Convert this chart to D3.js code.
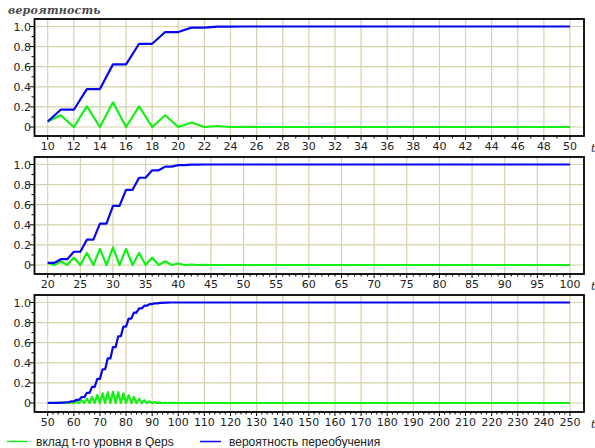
<!DOCTYPE html>
<html>
<head>
<meta charset="utf-8">
<script src="https://cdn.jsdelivr.net/npm/d3@7"></script>
<style>
  body { margin: 0; background: #fff; }
  svg { display: block; }
  text { font-family: "DejaVu Sans", sans-serif; fill: #222; }
</style>
</head>
<body>
<div id="chart"></div>
<script>
// panel 1: t = 10..50
const green1 = [
  0.055, 0.117, 0, 0.205, 0, 0.246, 0, 0.205, 0, 0.117, 0, 0.044, 0, 0.010, 0, 0.001,
  0, 0, 0, 0, 0, 0, 0, 0, 0, 0, 0, 0, 0, 0, 0, 0, 0, 0, 0, 0, 0, 0, 0, 0, 0
];
const blue1 = [
  0.055, 0.172, 0.172, 0.377, 0.377, 0.623, 0.623, 0.828, 0.828, 0.945, 0.945, 0.989, 0.989, 0.999, 0.999, 1,
  1, 1, 1, 1, 1, 1, 1, 1, 1, 1, 1, 1, 1, 1, 1, 1, 1, 1, 1, 1, 1, 1, 1, 1, 1
];

// panel 2: t = 20..100
const green2 = [
  0.021, 0, 0.037, 0, 0.074, 0, 0.120, 0, 0.160, 0, 0.176, 0, 0.160, 0, 0.120, 0, 0.074, 0, 0.037, 0,
  0.015, 0, 0.005, 0, 0.001,
  0, 0, 0, 0, 0, 0, 0, 0, 0, 0, 0, 0, 0, 0, 0, 0, 0, 0, 0, 0, 0, 0, 0, 0, 0, 0, 0, 0,
  0, 0, 0, 0, 0, 0, 0, 0, 0, 0, 0, 0, 0, 0, 0, 0, 0, 0, 0, 0, 0, 0, 0, 0, 0, 0, 0, 0
];
const blue2 = [
  0.021, 0.021, 0.058, 0.058, 0.132, 0.132, 0.252, 0.252, 0.412, 0.412, 0.588, 0.588, 0.748, 0.748,
  0.868, 0.868, 0.942, 0.942, 0.979, 0.979, 0.994, 0.994, 0.999, 0.999, 1,
  1, 1, 1, 1, 1, 1, 1, 1, 1, 1, 1, 1, 1, 1, 1, 1, 1, 1, 1, 1, 1, 1, 1, 1, 1, 1, 1, 1,
  1, 1, 1, 1, 1, 1, 1, 1, 1, 1, 1, 1, 1, 1, 1, 1, 1, 1, 1, 1, 1, 1, 1, 1, 1, 1, 1, 1
];

// panel 3: t = 50..250
const green3 = [
  0, 0.0003, 0, 0.0008, 0, 0.002, 0, 0.0044, 0, 0.0088, 0, 0.016, 0, 0.027, 0, 0.042, 0, 0.060, 0, 0.079,
  0, 0.096, 0, 0.108, 0, 0.112, 0, 0.108, 0, 0.096, 0, 0.079, 0, 0.060, 0, 0.042, 0, 0.027, 0, 0.016,
  0, 0.0088, 0, 0.0044, 0, 0.002, 0, 0.0008, 0, 0.0003, 0,
  0, 0, 0, 0, 0, 0, 0, 0, 0, 0, 0, 0, 0, 0, 0, 0, 0, 0, 0, 0, 0, 0, 0, 0, 0,
  0, 0, 0, 0, 0, 0, 0, 0, 0, 0, 0, 0, 0, 0, 0, 0, 0, 0, 0, 0, 0, 0, 0, 0, 0,
  0, 0, 0, 0, 0, 0, 0, 0, 0, 0, 0, 0, 0, 0, 0, 0, 0, 0, 0, 0, 0, 0, 0, 0, 0,
  0, 0, 0, 0, 0, 0, 0, 0, 0, 0, 0, 0, 0, 0, 0, 0, 0, 0, 0, 0, 0, 0, 0, 0, 0,
  0, 0, 0, 0, 0, 0, 0, 0, 0, 0, 0, 0, 0, 0, 0, 0, 0, 0, 0, 0, 0, 0, 0, 0, 0,
  0, 0, 0, 0, 0, 0, 0, 0, 0, 0, 0, 0, 0, 0, 0, 0, 0, 0, 0, 0, 0, 0, 0, 0, 0
];
const blue3 = [
  0, 0.0005, 0.0005, 0.0013, 0.0013, 0.0033, 0.0033, 0.0077, 0.0077, 0.016, 0.016, 0.032, 0.032,
  0.059, 0.059, 0.101, 0.101, 0.161, 0.161, 0.240, 0.240, 0.336, 0.336, 0.444, 0.444, 0.556, 0.556,
  0.664, 0.664, 0.760, 0.760, 0.839, 0.839, 0.899, 0.899, 0.941, 0.941, 0.968, 0.968, 0.984, 0.984,
  0.992, 0.992, 0.997, 0.997, 0.999, 0.999, 1, 1, 1, 1,
  1, 1, 1, 1, 1, 1, 1, 1, 1, 1, 1, 1, 1, 1, 1, 1, 1, 1, 1, 1, 1, 1, 1, 1, 1,
  1, 1, 1, 1, 1, 1, 1, 1, 1, 1, 1, 1, 1, 1, 1, 1, 1, 1, 1, 1, 1, 1, 1, 1, 1,
  1, 1, 1, 1, 1, 1, 1, 1, 1, 1, 1, 1, 1, 1, 1, 1, 1, 1, 1, 1, 1, 1, 1, 1, 1,
  1, 1, 1, 1, 1, 1, 1, 1, 1, 1, 1, 1, 1, 1, 1, 1, 1, 1, 1, 1, 1, 1, 1, 1, 1,
  1, 1, 1, 1, 1, 1, 1, 1, 1, 1, 1, 1, 1, 1, 1, 1, 1, 1, 1, 1, 1, 1, 1, 1, 1,
  1, 1, 1, 1, 1, 1, 1, 1, 1, 1, 1, 1, 1, 1, 1, 1, 1, 1, 1, 1, 1, 1, 1, 1, 1
];

const yTicks = [0, 0.2, 0.4, 0.6, 0.8, 1.0];
const yLabels = ["0", "0.2", "0.4", "0.6", "0.8", "1.0"];

const panels = [
  { start: 10, end: 50, step: 2, minor: 1, green: green1, blue: blue1, top: 19 },
  { start: 20, end: 100, step: 5, minor: 1, green: green2, blue: blue2, top: 157 },
  { start: 50, end: 250, step: 10, minor: 2, green: green3, blue: blue3, top: 295 }
];

const legendLabels = ["вклад t-го уровня в Qeps", "вероятность переобучения"];
const colors = { green: "#14f014", blue: "#0808ee" };

const width = 595, height = 448;
const left = 34.5, right = 584;
const grid = "#d6d2aa";

const svg = d3.select("#chart").append("svg")
  .attr("width", width).attr("height", height);

svg.append("text")
  .attr("x", 8).attr("y", 14)
  .style("font-family", "'DejaVu Serif', serif")
  .style("font-style", "italic").style("font-weight", "bold")
  .style("font-size", "11px").style("letter-spacing", "0.2px")
  .style("fill", "#4a4a4a")
  .text("вероятность");

panels.forEach((p) => {
  const g = svg.append("g");
  const bottom = p.top + 117;
  const x = d3.scaleLinear().domain([p.start, p.end]).range([47.7, 570]);
  const y = d3.scaleLinear().domain([0, 1]).range([p.top + 108, p.top + 7.5]);
  const ts = d3.range(p.start, p.end + 0.01, p.step);
  const minors = d3.range(p.start, p.end + 0.01, p.minor).filter((v) => (v - p.start) % p.step !== 0);

  // grid
  g.selectAll(".vg").data(ts).join("line")
    .attr("x1", (d) => x(d)).attr("x2", (d) => x(d))
    .attr("y1", p.top).attr("y2", bottom)
    .attr("stroke", grid).attr("stroke-width", 1.2);
  g.selectAll(".hg").data(yTicks).join("line")
    .attr("x1", left).attr("x2", right)
    .attr("y1", (d) => y(d)).attr("y2", (d) => y(d))
    .attr("stroke", grid).attr("stroke-width", 1.2);

  // lines
  const idx = d3.range(p.green.length);
  [["green", p.green], ["blue", p.blue]].forEach(([key, vals]) => {
    const line = d3.line().x((i) => x(p.start + i)).y((i) => y(vals[i]));
    g.append("path").datum(idx)
      .attr("d", line)
      .attr("fill", "none")
      .attr("stroke", colors[key])
      .attr("stroke-width", 2.2)
      .attr("stroke-linejoin", "round");
  });

  // frame
  g.append("rect")
    .attr("x", left).attr("y", p.top)
    .attr("width", right - left).attr("height", bottom - p.top)
    .attr("fill", "none").attr("stroke", "#000").attr("stroke-width", 1.8);

  // y ticks
  g.selectAll(".yt").data(yTicks).join("line")
    .attr("x1", left - 5).attr("x2", left)
    .attr("y1", (d) => y(d)).attr("y2", (d) => y(d))
    .attr("stroke", "#000");
  g.selectAll(".ym").data([0.1, 0.3, 0.5, 0.7, 0.9]).join("line")
    .attr("x1", left - 3).attr("x2", left)
    .attr("y1", (d) => y(d)).attr("y2", (d) => y(d))
    .attr("stroke", "#000");
  g.selectAll(".yl").data(yTicks).join("text")
    .attr("x", 31).attr("y", (d) => y(d) + 4)
    .attr("text-anchor", "end")
    .style("font-size", "11px")
    .text((d, i) => yLabels[i]);

  // x ticks
  g.selectAll(".xt").data(ts).join("line")
    .attr("x1", (d) => x(d)).attr("x2", (d) => x(d))
    .attr("y1", bottom).attr("y2", bottom + 4)
    .attr("stroke", "#000");
  g.selectAll(".xm").data(minors).join("line")
    .attr("x1", (d) => x(d)).attr("x2", (d) => x(d))
    .attr("y1", bottom).attr("y2", bottom + 2.5)
    .attr("stroke", "#000");
  g.selectAll(".xl").data(ts).join("text")
    .attr("x", (d) => x(d)).attr("y", bottom + 14)
    .attr("text-anchor", "middle")
    .style("font-size", "11px")
    .text((d) => d);

  g.append("text")
    .attr("x", 591).attr("y", bottom + 16)
    .style("font-family", "'DejaVu Serif', serif")
    .style("font-style", "italic").style("font-size", "11px")
    .text("t");
});

// legend
const lg = svg.append("g");
[["green", 7, 36], ["blue", 200, 229]].forEach(([key, lx, tx], i) => {
  lg.append("line")
    .attr("x1", lx).attr("x2", lx + 21)
    .attr("y1", 441.5).attr("y2", 441.5)
    .attr("stroke", colors[key]).attr("stroke-width", 1.5);
  lg.append("text")
    .attr("x", tx).attr("y", 445.5)
    .style("font-family", "'Liberation Sans', Arial, sans-serif")
    .style("font-size", "12px")
    .text(legendLabels[i]);
});
</script>
</body>
</html>
